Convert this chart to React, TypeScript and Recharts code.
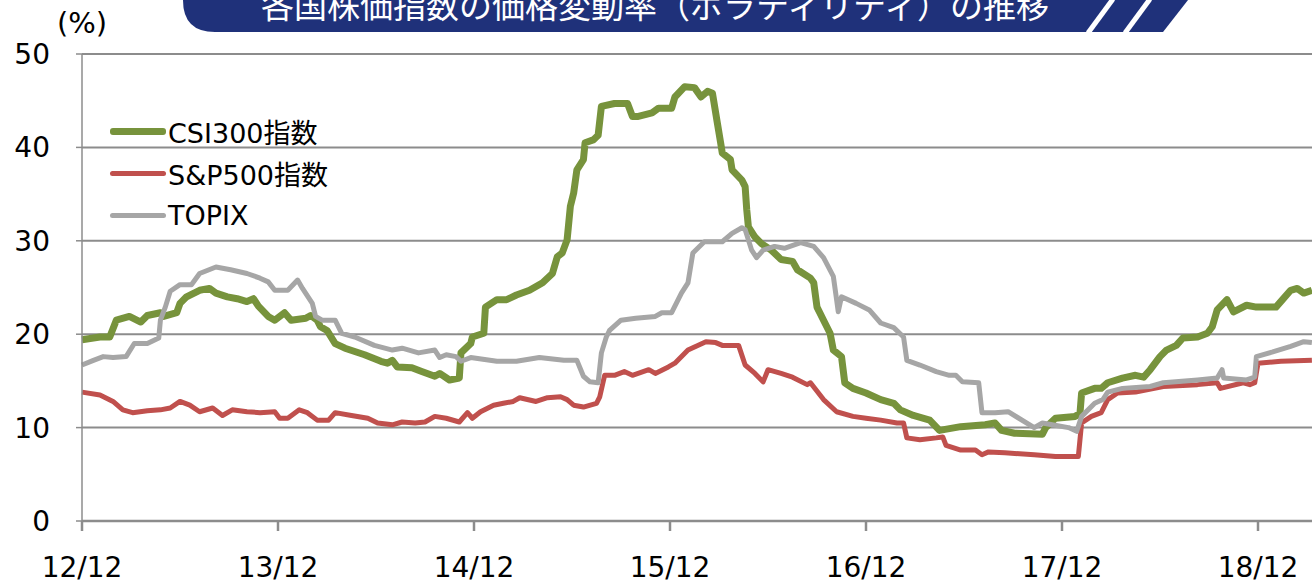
import React from 'react'
import {
  LineChart,
  Line,
  XAxis,
  YAxis,
  CartesianGrid,
  Legend,
} from 'recharts'

// x = months since 2012/12
const yearTicks = [0, 12, 24, 36, 48, 60, 72]
const yearLabels = ['12/12', '13/12', '14/12', '15/12', '16/12', '17/12', '18/12']
const valueTicks = [0, 10, 20, 30, 40, 50]

const csiMonths = [
  0, 1.1, 1.7, 2.1, 2.9, 3.6, 4.0, 4.8, 5.0, 5.8, 6.0, 6.4, 7.2, 7.8, 8.2, 8.9, 9.5, 10.1, 10.5, 10.8,
  11.4, 11.8, 12.4, 12.8, 13.7, 14.0, 14.4, 14.6, 15.0, 15.5, 16.1, 17.3, 18.3, 18.7, 19.0, 19.3, 20.2,
  20.8, 21.6, 21.9, 22.5, 23.1, 23.2, 23.8, 23.9, 24.6, 24.7, 25.4, 26.0, 26.6, 27.4, 28.2, 28.8, 29.1,
  29.4, 29.7, 29.9, 30.1, 30.3, 30.7, 30.8, 31.3, 31.6, 31.8, 32.6, 33.4, 33.7, 34.0, 34.9, 35.3, 36.1,
  36.3, 36.9, 37.5, 37.9, 38.3, 38.6, 38.9, 39.1, 39.2, 39.7, 39.8, 40.4, 40.6, 40.7, 40.8, 41.2, 41.6,
  42.2, 42.8, 43.5, 43.8, 44.6, 44.8, 45.0, 45.4, 45.8, 46.0, 46.5, 46.7, 47.2, 48.0, 48.9, 49.7, 50.1,
  50.9, 51.9, 52.5, 53.8, 55.3, 55.9, 56.3, 57.1, 58.8, 59.0, 59.6, 60.8, 61.1, 61.2, 62.0, 62.4, 62.8,
  63.7, 64.5, 65.0, 65.4, 66.0, 66.4, 67.0, 67.4, 68.3, 68.9, 69.2, 69.5, 70.1, 70.5, 71.3, 71.9, 73.1,
  73.5, 74.0, 74.4, 74.8, 75.3,
]
const csiValues = [
  19.4, 19.7, 19.7, 21.5, 21.9, 21.3, 22.0, 22.3, 21.9, 22.3, 23.3, 24.0, 24.7, 24.9, 24.4, 24.0, 23.8,
  23.5, 23.8, 23.0, 21.9, 21.5, 22.3, 21.5, 21.7, 22.0, 21.5, 20.8, 20.4, 19.0, 18.5, 17.8, 17.1, 16.9,
  17.2, 16.5, 16.4, 16.0, 15.5, 15.8, 15.1, 15.3, 18.0, 19.0, 19.7, 20.1, 22.9, 23.7, 23.7, 24.2, 24.7,
  25.5, 26.5, 28.3, 28.7, 30.1, 33.7, 35.1, 37.6, 38.7, 40.5, 40.8, 41.3, 44.4, 44.7, 44.7, 43.3, 43.3,
  43.7, 44.2, 44.2, 45.4, 46.5, 46.4, 45.4, 46.0, 45.8, 42.6, 40.5, 39.4, 38.7, 37.6, 36.5, 35.8, 33.3,
  31.5, 30.4, 29.7, 29.0, 28.0, 27.8, 26.9, 26.0, 25.5, 22.9, 21.5, 20.1, 18.3, 17.6, 14.8, 14.2, 13.7,
  13.0, 12.6, 11.9, 11.3, 10.8, 9.7, 10.1, 10.3, 10.5, 9.7, 9.4, 9.3, 10.0, 11.0, 11.2, 11.5, 13.7, 14.2,
  14.2, 14.8, 15.3, 15.6, 15.4, 16.2, 17.6, 18.3, 18.8, 19.6, 19.7, 20.1, 20.8, 22.6, 23.7, 22.4, 23.1,
  22.9, 22.9, 23.7, 24.7, 24.9, 24.4, 24.7,
]

const spxMonths = [
  0, 1.1, 1.9, 2.5, 3.1, 4.0, 4.8, 5.4, 6.0, 6.6, 7.2, 8.0, 8.6, 9.2, 10.1, 10.9, 11.8, 12.1, 12.6, 13.3,
  13.8, 14.4, 15.1, 15.5, 16.5, 17.5, 18.1, 19.0, 19.6, 20.4, 21.0, 21.6, 22.3, 23.1, 23.6, 23.9, 24.4,
  25.2, 25.8, 26.4, 26.8, 27.8, 28.5, 29.3, 29.7, 30.1, 30.7, 31.5, 31.7, 32.0, 32.6, 33.2, 33.7, 34.7,
  35.1, 35.9, 36.3, 37.1, 38.2, 38.8, 39.2, 40.2, 40.6, 41.2, 41.7, 42.0, 42.8, 43.5, 44.4, 44.6, 45.4,
  46.2, 47.2, 48.0, 48.9, 49.9, 50.3, 50.5, 51.3, 52.3, 52.7, 52.9, 53.8, 54.7, 55.1, 55.5, 56.5, 58.3,
  59.6, 61.0, 61.2, 61.8, 62.4, 62.8, 63.4, 64.5, 66.2, 68.3, 69.5, 69.7, 71.1, 71.5, 71.8, 72.0, 73.4,
  75.3,
]
const spxValues = [
  13.8, 13.5, 12.8, 11.9, 11.6, 11.8, 11.9, 12.1, 12.8, 12.4, 11.7, 12.1, 11.3, 11.9, 11.7, 11.6, 11.7,
  11.0, 11.0, 11.9, 11.6, 10.8, 10.8, 11.6, 11.3, 11.0, 10.5, 10.3, 10.6, 10.5, 10.6, 11.2, 11.0, 10.6,
  11.6, 11.0, 11.7, 12.4, 12.6, 12.8, 13.2, 12.8, 13.2, 13.3, 13.0, 12.4, 12.2, 12.6, 13.3, 15.6, 15.6,
  16.0, 15.6, 16.2, 15.8, 16.5, 16.9, 18.3, 19.2, 19.1, 18.8, 18.8, 16.7, 15.8, 14.9, 16.2, 15.8, 15.4,
  14.6, 14.8, 13.0, 11.7, 11.2, 11.0, 10.8, 10.5, 10.5, 8.9, 8.7, 8.9, 9.0, 8.1, 7.6, 7.6, 7.1, 7.4, 7.3,
  7.1, 6.9, 6.9, 10.5, 11.2, 11.6, 13.0, 13.7, 13.8, 14.4, 14.6, 14.8, 14.2, 14.8, 14.6, 14.8, 16.9,
  17.1, 17.2,
]

const topixMonths = [
  0, 0.7, 1.3, 1.9, 2.7, 3.2, 4.0, 4.7, 4.8, 5.1, 5.4, 6.0, 6.7, 7.2, 8.2, 9.1, 10.1, 10.9, 11.4, 11.8,
  12.6, 13.2, 13.5, 14.1, 14.3, 14.7, 15.5, 15.9, 16.7, 17.9, 19.0, 19.6, 20.6, 21.6, 21.9, 22.3, 22.9,
  23.2, 23.8, 25.4, 26.6, 28.0, 29.5, 30.3, 30.7, 31.1, 31.6, 31.8, 32.1, 32.3, 33.0, 33.9, 35.1, 35.5,
  36.1, 36.7, 37.1, 37.4, 38.1, 39.2, 39.8, 40.4, 40.6, 41.0, 41.3, 41.7, 42.4, 43.0, 44.0, 44.8, 45.4,
  46.0, 46.2, 46.3, 46.5, 47.4, 48.2, 48.9, 49.7, 50.3, 50.5, 51.3, 52.3, 53.1, 53.5, 53.9, 54.9, 55.1,
  55.9, 56.7, 58.3, 58.8, 59.4, 60.4, 60.9, 61.2, 62.0, 62.5, 62.8, 63.7, 65.4, 66.2, 68.3, 69.5, 69.8,
  69.9, 71.3, 71.8, 71.9, 72.9, 74.0, 74.8, 75.3,
]
const topixValues = [
  16.7, 17.2, 17.6, 17.5, 17.6, 19.0, 19.0, 19.6, 21.5, 22.9, 24.6, 25.3, 25.3, 26.5, 27.2, 26.9, 26.5,
  26.0, 25.6, 24.7, 24.7, 25.8, 24.9, 23.3, 21.9, 21.5, 21.5, 20.1, 19.7, 18.8, 18.3, 18.5, 18.0, 18.3,
  17.5, 17.8, 17.6, 17.1, 17.5, 17.1, 17.1, 17.5, 17.2, 17.2, 15.5, 14.9, 14.8, 18.0, 19.7, 20.4, 21.5,
  21.7, 21.9, 22.3, 22.3, 24.4, 25.5, 28.7, 29.9, 29.9, 30.8, 31.4, 31.2, 29.0, 28.2, 29.0, 29.4, 29.2,
  29.8, 29.4, 28.2, 26.2, 23.7, 22.4, 24.0, 23.3, 22.6, 21.2, 20.7, 19.7, 17.2, 16.7, 16.0, 15.6, 15.6,
  14.9, 14.8, 11.6, 11.6, 11.7, 10.0, 10.5, 10.3, 10.0, 9.6, 11.2, 12.6, 13.0, 13.8, 14.2, 14.4, 14.8,
  15.1, 15.3, 16.2, 15.3, 15.1, 15.4, 17.6, 18.1, 18.7, 19.2, 19.1,
]

const toRows = (months: number[], values: number[]) =>
  months.map((m, i) => ({ m, v: values[i] }))

const series = [
  { name: 'CSI300指数', color: '#77933C', width: 7, rows: toRows(csiMonths, csiValues) },
  { name: 'S&P500指数', color: '#C0504D', width: 5, rows: toRows(spxMonths, spxValues) },
  { name: 'TOPIX', color: '#A6A6A6', width: 5, rows: toRows(topixMonths, topixValues) },
]

const FONT = '"DejaVu Sans", "Noto Sans CJK JP", sans-serif'

const renderLegend = () => (
  <div style={{ fontFamily: FONT, fontSize: 27, color: '#000' }}>
    {series.map((s) => (
      <div key={s.name} style={{ display: 'flex', alignItems: 'center', height: 42 }}>
        <span
          style={{
            display: 'inline-block',
            width: 56,
            height: s.width,
            background: s.color,
            borderRadius: 3,
            marginRight: 2,
          }}
        />
        <span>{s.name}</span>
      </div>
    ))}
  </div>
)

function TitleBanner() {
  return (
    <svg
      width={1312}
      height={40}
      style={{ position: 'absolute', left: 0, top: 0 }}
    >
      <path
        d='M183 0 L1188 0 L1163 32 L215 32 Q183 32 183 0 Z'
        fill='#1F317A'
      />
      <line x1={1088} y1={33} x2={1113} y2={-1} stroke='#fff' strokeWidth={5} />
      <line x1={1125} y1={33} x2={1150} y2={-1} stroke='#fff' strokeWidth={5} />
      <text
        x={655}
        y={18}
        textAnchor='middle'
        fill='#fff'
        fontSize={33}
        fontFamily='"Noto Sans CJK JP", sans-serif'
      >
        各国株価指数の価格変動率（ボラティリティ）の推移
      </text>
    </svg>
  )
}

export default function App() {
  return (
    <div
      style={{
        position: 'absolute',
        left: 0,
        top: 0,
        width: 1312,
        height: 583,
        overflow: 'hidden',
        background: '#fff',
      }}
    >
      <TitleBanner />
      <div
        style={{
          position: 'absolute',
          left: 57,
          top: 6,
          fontFamily: FONT,
          fontSize: 29,
        }}
      >
        (%)
      </div>
      <div style={{ position: 'absolute', left: 0, top: 0 }}>
        <LineChart
          width={1370}
          height={583}
          margin={{ top: 54, right: 14, left: 0, bottom: 8 }}
        >
          <CartesianGrid
            vertical={false}
            stroke='#8C8C8C'
            strokeWidth={2}
          />
          <XAxis
            dataKey='m'
            type='number'
            domain={[0, 78]}
            ticks={yearTicks}
            tickFormatter={(v: number) => yearLabels[yearTicks.indexOf(v)] ?? ''}
            allowDuplicatedCategory={false}
            height={54}
            tickSize={10}
            tickMargin={26}
            stroke='#8C8C8C'
            strokeWidth={2.5}
            tick={{ fill: '#000', fontSize: 28, fontFamily: FONT }}
          />
          <YAxis
            type='number'
            domain={[0, 50]}
            ticks={valueTicks}
            width={82}
            tickSize={6}
            tickMargin={26}
            stroke='#8C8C8C'
            strokeWidth={1.5}
            tick={{ fill: '#000', fontSize: 28, fontFamily: FONT }}
          />
          <Legend
            content={renderLegend}
            layout='horizontal'
            verticalAlign='middle'
            align='center'
            wrapperStyle={{ position: 'absolute', left: 110, top: 110, width: 'auto' }}
          />
          {series.map((s) => (
            <Line
              key={s.name}
              data={s.rows}
              dataKey='v'
              name={s.name}
              type='linear'
              stroke={s.color}
              strokeWidth={s.width}
              dot={false}
              activeDot={false}
              isAnimationActive={false}
              strokeLinejoin='round'
            />
          ))}
        </LineChart>
      </div>
    </div>
  )
}
